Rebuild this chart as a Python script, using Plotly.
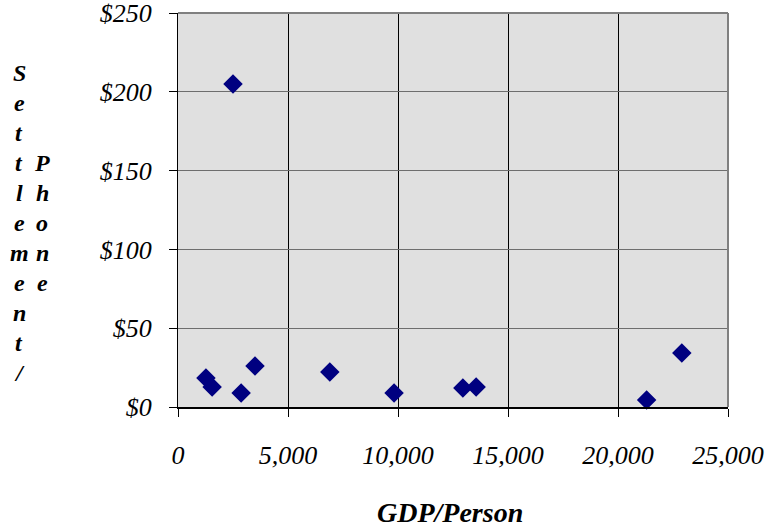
import plotly.graph_objects as go

gdp_per_person = [2500, 1270, 1550, 2870, 3500, 6900, 9820, 12950, 13550, 21300, 22900]
settlement_per_phone = [205, 18.4, 12.7, 8.9, 26, 22.2, 8.9, 12, 12.7, 4.4, 34.3]

x_ticks = [0, 5000, 10000, 15000, 20000, 25000]
x_tick_labels = ["0", "5,000", "10,000", "15,000", "20,000", "25,000"]
y_ticks = [0, 50, 100, 150, 200, 250]
y_tick_labels = ["$0", "$50", "$100", "$150", "$200", "$250"]

W, H = 767, 529
L, R, T, B = 178, 728, 13, 407

def px(xp):
    return (xp - L) / (R - L)

def py(yp):
    return (B - yp) / (B - T)

fig = go.Figure()
fig.add_trace(go.Scatter(
    x=gdp_per_person, y=settlement_per_phone, mode="markers",
    marker=dict(symbol="diamond", size=15, color="#000080", line=dict(width=0)),
    hoverinfo="x+y", showlegend=False, cliponaxis=False,
))

tick_font = dict(family="Liberation Serif", size=26, color="black", style="italic")

fig.update_layout(
    width=W, height=H,
    margin=dict(l=L, r=W - R, t=T, b=H - B, autoexpand=False),
    paper_bgcolor="white", plot_bgcolor="#e0e0e0",
    font=dict(family="Liberation Serif"),
    xaxis=dict(
        range=[0, 25000], tickvals=x_ticks, ticktext=x_tick_labels,
        showgrid=True, gridcolor="#000000", gridwidth=1,
        showline=True, linecolor="black", linewidth=2,
        ticks="outside", ticklen=8, tickcolor="black", tickwidth=1,
        tickfont=tick_font, ticklabelstandoff=16, zeroline=False,
        automargin=False, ticklabeloverflow="allow",
    ),
    yaxis=dict(
        range=[0, 250], tickvals=y_ticks, ticktext=y_tick_labels,
        showgrid=True, gridcolor="#6e6e6e", gridwidth=1,
        showline=True, linecolor="black", linewidth=1,
        ticks="outside", ticklen=8, tickcolor="black", tickwidth=1,
        tickfont=tick_font, ticklabelstandoff=12, zeroline=False,
        automargin=False, ticklabeloverflow="allow",
    ),
    shapes=[
        dict(type="line", xref="paper", yref="paper", x0=0, x1=1, y0=1, y1=1,
             line=dict(color="#808080", width=2)),
        dict(type="line", xref="paper", yref="paper", x0=1, x1=1, y0=0, y1=1,
             line=dict(color="#808080", width=2)),
    ],
)

title_font = dict(family="Liberation Serif", size=24, color="black")
col1 = "Settlement/"
col2 = "Phone"
for i, c in enumerate(col1):
    fig.add_annotation(
        text=f"<b><i>{c}</i></b>", xref="paper", yref="paper",
        x=px(19), y=py(73 + 30 * i), xanchor="center", yanchor="middle",
        showarrow=False, font=title_font,
    )
for i, c in enumerate(col2):
    fig.add_annotation(
        text=f"<b><i>{c}</i></b>", xref="paper", yref="paper",
        x=px(42), y=py(163 + 30 * i), xanchor="center", yanchor="middle",
        showarrow=False, font=title_font,
    )
fig.add_annotation(
    text="<b><i>GDP/Person</i></b>",
    xref="paper", yref="paper", x=px(450), y=py(512),
    xanchor="center", yanchor="middle", showarrow=False,
    font=dict(family="Liberation Serif", size=28, color="black"),
)

fig.write_html("out.html")
